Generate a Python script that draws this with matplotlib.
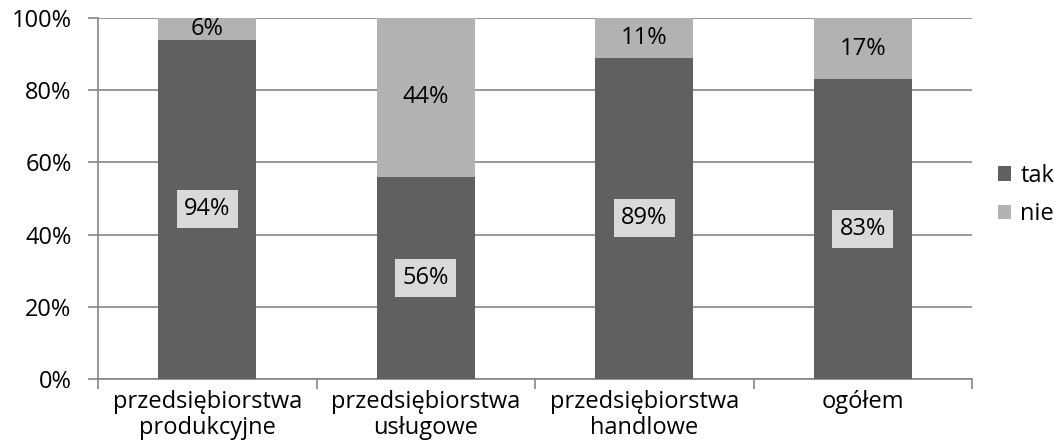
import numpy as np
import matplotlib
matplotlib.use("Agg")
import matplotlib.pyplot as plt

# --> Data.
categories = ["przedsiębiorstwa\nprodukcyjne", "przedsiębiorstwa\nusługowe",
              "przedsiębiorstwa\nhandlowe", "ogółem"]
tak = [94, 56, 89, 83]
nie = [6, 44, 11, 17]
series_names = ["tak", "nie"]

plt.rcParams["font.family"] = ["Open Sans", "DejaVu Sans"]
fs = 17

fig = plt.figure(figsize=(10.54, 4.46), dpi=100)
ax = fig.add_axes([98 / 1054, 1 - 379 / 446, (972 - 98) / 1054, (379 - 18) / 446])

x = np.arange(len(categories))
c_tak, c_nie = "#606060", "#b2b2b2"
grid_c = "#868686"

ax.bar(x, tak, width=0.45, color=c_tak, zorder=3, label=series_names[0])
ax.bar(x, nie, width=0.45, bottom=tak, color=c_nie, zorder=3, label=series_names[1])

# --> Value labels.
for xi, t, n in zip(x, tak, nie):
    ax.text(xi, t / 2, f"{t}%", ha="center", va="center", fontsize=fs, zorder=4,
            bbox=dict(boxstyle="square,pad=0.3", fc="#d9d9d9", ec="none"))
    ax.text(xi, t + n / 2, f"{n}%", ha="center", va="center", fontsize=fs, zorder=4)

# --> Axes styling.
ax.set_xlim(-0.5, len(categories) - 0.5)
ax.set_ylim(0, 100)
ax.set_yticks(np.arange(0, 101, 20))
ax.set_yticklabels([f"{v}%" for v in range(0, 101, 20)], fontsize=fs)
ax.yaxis.grid(True, color=grid_c, lw=1.2, zorder=0)
ax.set_xticks(x)
ax.set_xticklabels(categories, fontsize=fs, linespacing=1.12)
ax.tick_params(axis="x", length=0, pad=8)
ax.set_xticks(np.arange(-0.5, len(categories)), minor=True)
ax.tick_params(axis="x", which="minor", length=7, color=grid_c, width=1.2)
ax.tick_params(axis="y", length=7, color=grid_c, width=1.2, pad=12)
for s in ["top", "right"]:
    ax.spines[s].set_visible(False)
for s in ["left", "bottom"]:
    ax.spines[s].set_color(grid_c)
    ax.spines[s].set_linewidth(1.2)

ax.legend(loc="center left", bbox_to_anchor=(998 / 874 - 98 / 874, 0.51), frameon=False,
          fontsize=fs, handlelength=0.55, handleheight=0.55, handletextpad=0.4,
          labelspacing=0.6, borderaxespad=0, borderpad=0)

fig.savefig("out.png", dpi=100)
